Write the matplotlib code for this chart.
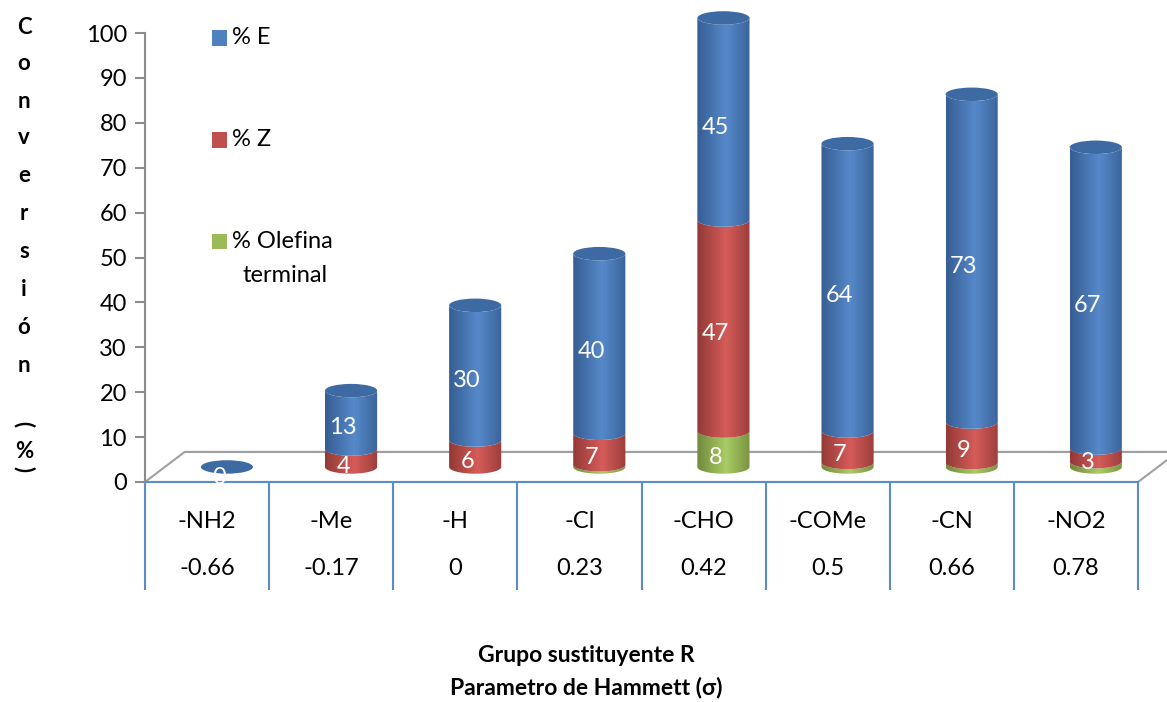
import numpy as np
import matplotlib
matplotlib.use("Agg")
import matplotlib.pyplot as plt
from matplotlib.patches import PathPatch, Ellipse, Polygon, Rectangle
from matplotlib.path import Path
from matplotlib.colors import LinearSegmentedColormap

plt.rcParams['font.family'] = ['Lato', 'DejaVu Sans']

# data
groups = ["-NH2", "-Me", "-H", "-Cl", "-CHO", "-COMe", "-CN", "-NO2"]
sigma = ["-0.66", "-0.17", "0", "0.23", "0.42", "0.5", "0.66", "0.78"]
olefina = [0, 0, 0, 0.5, 8, 1, 1, 1.2]
pct_z = [0, 4, 6, 7, 47, 7, 9, 3]
pct_e = [0, 13, 30, 40, 45, 64, 73, 67]

series = [
    ("% Olefina\nterminal", olefina, "#9BBB59", ("#6F8A3A", "#AACB66"), False),
    ("% Z", pct_z, "#C0504D", ("#923936", "#D55C59"), False),
    ("% E", pct_e, "#4F81BD", ("#365D92", "#5689CA"), True),
]
top_color = "#3E6AA3"

# pseudo-3D geometry (data units)
DX, DY = 0.16, 3.35        # cylinder shift (half of floor depth)
FDX, FDY = 0.32, 6.7       # floor depth
HW = 0.21                  # cylinder half width
EB = 1.5                   # ellipse half height
YMAX = 108

fig = plt.figure(figsize=(11.67, 7.02), dpi=100)
ax = fig.add_axes([145 / 1167, 220 / 702, 993 / 1167, 4.49 * YMAX / 702])
ax.set_xlim(0, 8)
ax.set_ylim(0, YMAX)

for s in ["top", "right", "bottom"]:
    ax.spines[s].set_visible(False)
ax.spines["left"].set_color("#8C8C8C")
ax.spines["left"].set_linewidth(1.5)
ax.spines["left"].set_bounds(0, 100)
ax.set_xticks([])
ax.set_yticks(range(0, 101, 10))
ax.tick_params(axis="y", direction="out", length=7, width=1.5, color="#8C8C8C",
               labelsize=17, pad=6)

# floor
floor = Polygon([(0, 0), (8, 0), (8 + FDX, FDY), (FDX, FDY)], closed=True,
                facecolor="white", edgecolor="#A0A0A0", lw=1.5, clip_on=False, zorder=1)
ax.add_patch(floor)
ax.plot([FDX, 8.3], [FDY, FDY], color="#A0A0A0", lw=1.5, clip_on=False, zorder=1)

# table under the floor
ax.plot([0, 8], [0, 0], color="#5B8BC8", lw=1.5, clip_on=False, zorder=2)
ax.vlines(np.arange(0, 9), -24, 0, color="#5B8BC8", lw=1.5, clip_on=False)
for i, (g, s) in enumerate(zip(groups, sigma)):
    ax.text(i + 0.5, -8.9, g, ha="center", va="center", fontsize=17, clip_on=False)
    ax.text(i + 0.5, -19.2, s, ha="center", va="center", fontsize=17, clip_on=False)


def segment_path(xc, y0, y1):
    t = np.linspace(0, np.pi, 40)
    xs = xc - HW * np.cos(t)
    lower0 = np.column_stack([xs, y0 - EB * np.sin(t)])
    lower1 = np.column_stack([xs[::-1], y1 - EB * np.sin(t[::-1])])
    verts = np.vstack([lower0, lower1, lower0[:1]])
    codes = [Path.MOVETO] + [Path.LINETO] * (len(verts) - 2) + [Path.CLOSEPOLY]
    return Path(verts, codes)


grad = np.linspace(0, 1, 200)
prof = np.interp(grad, [0, 0.55, 1], [0, 1, 0.15])

for i in range(len(groups)):
    xc = i + 0.5 + DX
    base = DY
    for name, vals, col, (dark, light), always in series:
        v = vals[i]
        if v > 0:
            y0, y1 = base, base + v
            patch = PathPatch(segment_path(xc, y0, y1), facecolor="none",
                              edgecolor="none", transform=ax.transData, clip_on=False)
            ax.add_patch(patch)
            cmap = LinearSegmentedColormap.from_list(name, [dark, light])
            im = ax.imshow(prof[None, :], cmap=cmap, vmin=0, vmax=1, aspect="auto",
                           extent=[xc - HW, xc + HW, y0 - EB - 1, y1 + 1],
                           interpolation="bilinear", zorder=3)
            im.set_clip_path(patch)
        if always or v >= 2:
            ly = base + v / 2 - 1.8 if v > 0 else base - 2.4
            ax.text(i + 0.5 + DX * 0.6, ly, str(int(round(v))), ha="center", va="center",
                    color="white", fontsize=17, zorder=6, clip_on=False)
        base += v
    top = Ellipse((xc, base), 2 * HW, 2 * EB, facecolor=top_color, edgecolor="none",
                  zorder=4, clip_on=False)
    ax.add_patch(top)

ax.set_xlim(0, 8)
ax.set_ylim(0, YMAX)

# legend (square + label, drawn in figure pixels)
leg_y = [38, 140, 242]
for (name, _, col, _, _), yp in zip(series[::-1], leg_y):
    fig.add_artist(Rectangle((212 / 1167, 1 - (yp + 7.5) / 702), 15 / 1167, 15 / 702,
                             transform=fig.transFigure, facecolor=col, edgecolor="none"))
    first, *rest = name.split("\n")
    fig.text(232 / 1167, 1 - yp / 702, first, ha="left", va="center", fontsize=17)
    if rest:
        fig.text(285 / 1167, 1 - (yp + 33) / 702, rest[0], ha="center", va="center",
                 fontsize=17)

# y axis title, stacked letters
letters = ["C", "o", "n", "v", "e", "r", "s", "i", "ó", "n"]
ypos = [28, 63, 101, 138, 175, 214, 251, 289, 327, 365]
for ch, yp in zip(letters, ypos):
    fig.text(24 / 1167, 1 - yp / 702, ch, ha="center", va="center", fontsize=16,
             fontweight="bold")
fig.text(24 / 1167, 1 - 424 / 702, "(", ha="center", va="center", fontsize=16,
         fontweight="bold", rotation=-90)
fig.text(24 / 1167, 1 - 452 / 702, "%", ha="center", va="center", fontsize=16,
         fontweight="bold")
fig.text(24 / 1167, 1 - 469 / 702, ")", ha="center", va="center", fontsize=16,
         fontweight="bold", rotation=-90)

# x axis title
fig.text(586 / 1167, 1 - 656 / 702, "Grupo sustituyente R", ha="center", va="center",
         fontsize=16.5, fontweight="bold")
fig.text(586 / 1167, 1 - 688 / 702, "Parametro de Hammett (σ)", ha="center", va="center",
         fontsize=16.5, fontweight="bold")

fig.savefig("out.png", dpi=100)
